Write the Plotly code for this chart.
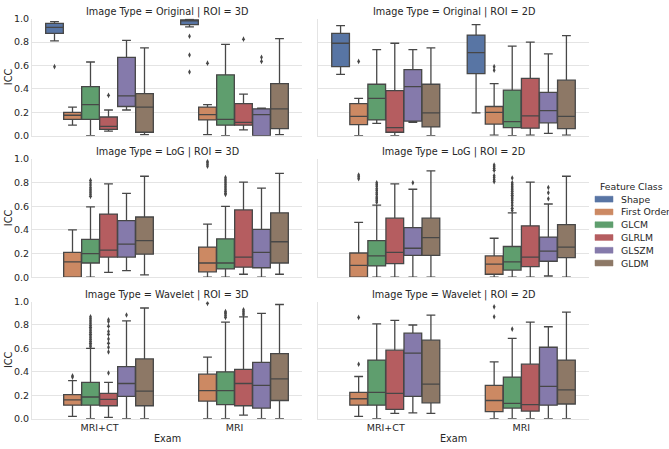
import plotly.graph_objects as go

# ---------------- data ----------------
EXAMS = ["MRI+CT", "MRI"]
CLASSES = ["Shape", "First Order", "GLCM", "GLRLM", "GLSZM", "GLDM"]
COLORS = ["#5875A4", "#CC8963", "#5F9E6E", "#B55D60", "#857AAB", "#8D7866"]
IMAGE_TYPES = ["Original", "LoG", "Wavelet"]
ROIS = ["3D", "2D"]
Y_TICKS = [0.0, 0.2, 0.4, 0.6, 0.8, 1.0]

# each list: [values for MRI+CT (6 classes), values for MRI (6 classes)]
ORIG3D_LO = [[0.81, 0.09, 0.00, 0.04, 0.22, 0.01], [0.93, 0.01, 0.00, 0.05, 0.00, 0.01]]
ORIG3D_Q1 = [[0.875, 0.14, 0.14, 0.055, 0.25, 0.03], [0.95, 0.135, 0.09, 0.09, 0.00, 0.06]]
ORIG3D_MED = [[0.925, 0.175, 0.265, 0.08, 0.34, 0.245], [0.985, 0.18, 0.14, 0.115, 0.18, 0.23]]
ORIG3D_Q3 = [[0.96, 0.20, 0.42, 0.16, 0.67, 0.36], [0.99, 0.245, 0.52, 0.275, 0.23, 0.445]]
ORIG3D_HI = [[0.975, 0.245, 0.63, 0.22, 0.815, 0.75], [0.995, 0.265, 0.78, 0.355, 0.235, 0.83]]
ORIG3D_OUT = [[[0.59], [], [], [0.345], [], []],
              [[0.85, 0.69, 0.545], [0.62], [], [0.825], [0.67, 0.635], []]]

ORIG2D_LO = [[0.525, 0.0, 0.105, 0.0, 0.115, 0.0], [0.195, 0.005, 0.0, 0.005, 0.02, 0.005]]
ORIG2D_Q1 = [[0.59, 0.095, 0.135, 0.03, 0.125, 0.075], [0.53, 0.10, 0.07, 0.065, 0.11, 0.06]]
ORIG2D_MED = [[0.79, 0.165, 0.32, 0.07, 0.42, 0.195], [0.71, 0.20, 0.12, 0.17, 0.215, 0.165]]
ORIG2D_Q3 = [[0.875, 0.275, 0.44, 0.385, 0.565, 0.44], [0.86, 0.25, 0.39, 0.49, 0.37, 0.475]]
ORIG2D_HI = [[0.94, 0.32, 0.735, 0.79, 0.735, 0.75], [0.95, 0.445, 0.765, 0.80, 0.70, 0.855]]
ORIG2D_OUT = [[[], [0.635], [], [], [], []],
              [[], [0.59, 0.56], [], [], [], []]]

LOG3D_LO = [[None, 0.0, 0.0, 0.04, 0.055, 0.02], [None, 0.0, 0.0, 0.025, 0.0, 0.025]]
LOG3D_Q1 = [[None, 0.0, 0.12, 0.17, 0.17, 0.195], [None, 0.045, 0.07, 0.085, 0.08, 0.12]]
LOG3D_MED = [[None, 0.13, 0.20, 0.23, 0.28, 0.31], [None, 0.12, 0.12, 0.17, 0.21, 0.30]]
LOG3D_Q3 = [[None, 0.21, 0.32, 0.535, 0.48, 0.51], [None, 0.255, 0.325, 0.57, 0.405, 0.545]]
LOG3D_HI = [[None, 0.40, 0.595, 0.79, 0.71, 0.855], [None, 0.45, 0.60, 0.805, 0.755, 0.88]]
LOG3D_OUT = [[[], [], [0.82, 0.80, 0.78, 0.76, 0.745, 0.73, 0.715, 0.70, 0.685], [], [], []],
             [[], [0.98, 0.97, 0.955, 0.94],
              [0.845, 0.83, 0.815, 0.80, 0.785, 0.77, 0.755, 0.74, 0.725, 0.71, 0.70], [], [], []]]

LOG2D_LO = [[None, 0.0, 0.0, 0.0, 0.0, 0.0], [None, 0.0, 0.0, 0.0, 0.01, 0.0]]
LOG2D_Q1 = [[None, 0.0, 0.095, 0.115, 0.185, 0.185], [None, 0.025, 0.06, 0.09, 0.135, 0.165]]
LOG2D_MED = [[None, 0.10, 0.18, 0.21, 0.245, 0.335], [None, 0.11, 0.13, 0.17, 0.22, 0.255]]
LOG2D_Q3 = [[None, 0.205, 0.31, 0.50, 0.42, 0.50], [None, 0.18, 0.26, 0.435, 0.34, 0.445]]
LOG2D_HI = [[None, 0.465, 0.61, 0.79, 0.745, 0.90], [None, 0.33, 0.545, 0.805, 0.62, 0.855]]
LOG2D_OUT = [[[], [0.865, 0.85, 0.835],
              [0.80, 0.785, 0.77, 0.75, 0.735, 0.715, 0.70, 0.68, 0.665, 0.65, 0.635], [], [0.80], []],
             [[], [0.95, 0.935, 0.92, 0.905, 0.86, 0.845, 0.825, 0.81],
              [0.84, 0.80, 0.785, 0.77, 0.755, 0.74, 0.725, 0.71, 0.695, 0.68, 0.665, 0.65, 0.63, 0.61,
               0.585, 0.565], [], [0.76, 0.715, 0.665], []]]

WAV3D_LO = [[None, 0.02, 0.0, 0.01, 0.0, 0.0], [None, 0.0, 0.0, 0.03, 0.0, 0.0]]
WAV3D_Q1 = [[None, 0.115, 0.115, 0.11, 0.19, 0.11], [None, 0.15, 0.12, 0.11, 0.09, 0.155]]
WAV3D_MED = [[None, 0.16, 0.185, 0.165, 0.30, 0.235], [None, 0.24, 0.24, 0.30, 0.285, 0.34]]
WAV3D_Q3 = [[None, 0.205, 0.31, 0.215, 0.445, 0.51], [None, 0.38, 0.40, 0.42, 0.48, 0.555]]
WAV3D_HI = [[None, 0.325, 0.60, 0.31, 0.835, 0.945], [None, 0.525, 0.825, 0.87, 0.90, 0.975]]
WAV3D_OUT = [[[], [0.365, 0.355],
              [0.87, 0.855, 0.84, 0.825, 0.81, 0.795, 0.78, 0.765, 0.75, 0.735, 0.72, 0.705, 0.69,
               0.675, 0.66, 0.645, 0.63, 0.615],
              [0.845, 0.83, 0.79, 0.745, 0.72, 0.68, 0.645, 0.61, 0.57, 0.39], [0.885], []],
             [[], [0.985], [0.915, 0.905, 0.895, 0.88, 0.865], [0.93, 0.915, 0.90, 0.885], [], []]]

WAV2D_LO = [[None, 0.02, 0.0, 0.045, 0.05, 0.045], [None, 0.0, 0.0, 0.0, 0.0, 0.0]]
WAV2D_Q1 = [[None, 0.115, 0.115, 0.08, 0.19, 0.135], [None, 0.06, 0.09, 0.065, 0.115, 0.125]]
WAV2D_MED = [[None, 0.17, 0.225, 0.215, 0.56, 0.295], [None, 0.155, 0.13, 0.12, 0.275, 0.245]]
WAV2D_Q3 = [[None, 0.225, 0.50, 0.585, 0.73, 0.67], [None, 0.285, 0.355, 0.465, 0.61, 0.50]]
WAV2D_HI = [[None, 0.36, 0.81, 0.84, 0.80, 0.885], [None, 0.485, 0.685, 0.825, 0.785, 0.91]]
WAV2D_OUT = [[[], [0.865, 0.465], [], [], [], []],
             [[], [0.955, 0.87], [0.765], [], [], []]]

PANEL_STATS = [
    ("Original", "3D", ORIG3D_LO, ORIG3D_Q1, ORIG3D_MED, ORIG3D_Q3, ORIG3D_HI, ORIG3D_OUT),
    ("Original", "2D", ORIG2D_LO, ORIG2D_Q1, ORIG2D_MED, ORIG2D_Q3, ORIG2D_HI, ORIG2D_OUT),
    ("LoG", "3D", LOG3D_LO, LOG3D_Q1, LOG3D_MED, LOG3D_Q3, LOG3D_HI, LOG3D_OUT),
    ("LoG", "2D", LOG2D_LO, LOG2D_Q1, LOG2D_MED, LOG2D_Q3, LOG2D_HI, LOG2D_OUT),
    ("Wavelet", "3D", WAV3D_LO, WAV3D_Q1, WAV3D_MED, WAV3D_Q3, WAV3D_HI, WAV3D_OUT),
    ("Wavelet", "2D", WAV2D_LO, WAV2D_Q1, WAV2D_MED, WAV2D_Q3, WAV2D_HI, WAV2D_OUT),
]

# ---------------- style / geometry ----------------
W, H = 669, 449
FONT = "DejaVu Sans"
TXT = "#262626"
EDGE = "#474747"
GRID = "#e4e4e4"
COL_X = [(32, 302), (318, 589)]
ROW_Y = [(13, 133), (157, 278), (303, 423)]
N = len(CLASSES)
EACH = 0.8 / N
BOX_W = EACH * 0.98
OFFSETS = [-0.4 + EACH / 2 + i * EACH for i in range(N)]


def px(x):
    return x / W


def py(y):
    return 1 - y / H


fig = go.Figure()
annotations = []
shapes = []
layout_axes = {}

for k, (itype, roi, LO, Q1, MED, Q3, HI, OUT) in enumerate(PANEL_STATS):
    row, col = divmod(k, 2)
    sfx = "" if k == 0 else str(k + 1)
    xa, ya = "x" + sfx, "y" + sfx
    for ci in range(N):
        if LO[0][ci] is None:
            continue
        xs = [ei + OFFSETS[ci] for ei in range(len(EXAMS))]
        fig.add_trace(go.Box(
            x=xs,
            lowerfence=[LO[e][ci] for e in range(2)],
            q1=[Q1[e][ci] for e in range(2)],
            median=[MED[e][ci] for e in range(2)],
            q3=[Q3[e][ci] for e in range(2)],
            upperfence=[HI[e][ci] for e in range(2)],
            width=BOX_W, whiskerwidth=0.5, boxpoints=False,
            fillcolor=COLORS[ci], line=dict(color=EDGE, width=1.3),
            name=CLASSES[ci], showlegend=False, hoverinfo="skip",
            xaxis=xa, yaxis=ya,
        ))
        ox, oy = [], []
        for e in range(2):
            for v in OUT[e][ci]:
                ox.append(e + OFFSETS[ci])
                oy.append(v)
        if ox:
            fig.add_trace(go.Scatter(
                x=ox, y=oy, mode="markers",
                marker=dict(symbol="diamond-tall", size=4, color=EDGE, line=dict(width=0)),
                showlegend=False, hoverinfo="skip", xaxis=xa, yaxis=ya,
            ))
    x0, x1 = COL_X[col]
    y0, y1 = ROW_Y[row]
    layout_axes["xaxis" + sfx] = dict(
        domain=[px(x0), px(x1)], range=[-0.5, 1.5], anchor=ya,
        tickvals=[0, 1], ticktext=EXAMS, showticklabels=(row == 2),
        showgrid=False, zeroline=False, showline=True, linecolor=GRID, linewidth=1,
        ticks="", tickfont=dict(family=FONT, size=9.5, color=TXT),
    )
    layout_axes["yaxis" + sfx] = dict(
        domain=[py(y1), py(y0)], range=[0, 1], anchor=xa,
        tickvals=Y_TICKS, tickformat=".1f", showticklabels=(col == 0),
        showgrid=True, gridcolor=GRID, gridwidth=1, zeroline=False,
        showline=True, linecolor=GRID, linewidth=1,
        ticks="", tickfont=dict(family=FONT, size=9.5, color=TXT),
    )
    annotations.append(dict(
        text=f"Image Type = {itype} | ROI = {roi}", x=px((x0 + x1) / 2), y=py(y0 - 7),
        xref="paper", yref="paper", showarrow=False, xanchor="center", yanchor="middle",
        font=dict(family=FONT, size=9.7, color=TXT),
    ))
    if col == 0:
        annotations.append(dict(
            text="ICC", x=px(8), y=py((y0 + y1) / 2), textangle=-90,
            xref="paper", yref="paper", showarrow=False, xanchor="center", yanchor="middle",
            font=dict(family=FONT, size=9.7, color=TXT),
        ))
    if row == 2:
        annotations.append(dict(
            text="Exam", x=px((x0 + x1) / 2), y=py(443),
            xref="paper", yref="paper", showarrow=False, xanchor="center", yanchor="middle",
            font=dict(family=FONT, size=9.7, color=TXT),
        ))

# legend (drawn manually to match item spacing)
annotations.append(dict(
    text="Feature Class", x=px(631), y=py(185), xref="paper", yref="paper",
    showarrow=False, xanchor="center", yanchor="middle",
    font=dict(family=FONT, size=9.3, color=TXT),
))
for i, (name, colr) in enumerate(zip(CLASSES, COLORS)):
    yc = 198 + i * 13.1
    shapes.append(dict(
        type="rect", xref="paper", yref="paper",
        x0=px(595), x1=px(613), y0=py(yc + 3), y1=py(yc - 3),
        fillcolor=colr, line=dict(color=colr, width=0.5),
    ))
    annotations.append(dict(
        text=name, x=px(619), y=py(yc), xref="paper", yref="paper",
        showarrow=False, xanchor="left", yanchor="middle",
        font=dict(family=FONT, size=9.3, color=TXT),
    ))

fig.update_layout(
    width=W, height=H, autosize=False,
    margin=dict(l=0, r=0, t=0, b=0),
    paper_bgcolor="white", plot_bgcolor="white",
    boxmode="overlay", showlegend=False,
    annotations=annotations, shapes=shapes,
    font=dict(family=FONT, color=TXT),
    **layout_axes,
)

fig.write_html(
    "out.html",
    config={"displayModeBar": False},
    post_script="document.body.style.margin='0px';document.body.style.padding='0px';",
)
